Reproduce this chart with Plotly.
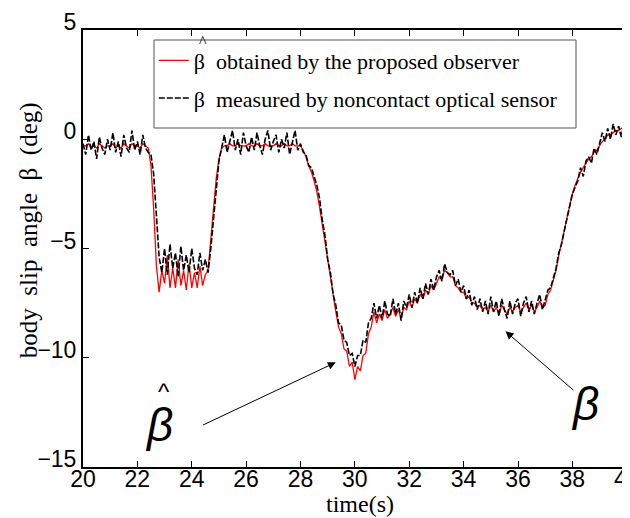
import plotly.graph_objects as go

# time axis (s), 0.1 s step from 20.0 to 40.3
time_s = [round(20.0 + 0.1 * i, 1) for i in range(204)]

# beta measured by noncontact optical sensor (deg)
beta_meas = [
    -0.2, -0.7, 0.2, -0.5, -0.1, -0.9, 0.1, -0.4, -0.7, 0.0,
    -0.5, 0.3, -0.6, -0.1, -0.8, 0.2, -0.4, -0.6, 0.4, -0.5,
    -0.1, -0.7, 0.2, -0.4, -0.6, -0.7, -1.6, -3.6, -5.4, -6.1,
    -5.0, -6.2, -4.8, -5.9, -5.2, -6.3, -4.9, -6.0, -5.3, -6.1,
    -5.0, -5.9, -6.2, -5.2, -6.0, -5.5, -6.1, -5.0, -3.6, -2.1,
    -1.0, -0.4, 0.2, -0.6, -0.1, 0.4, -0.5, 0.0, -0.7, 0.3,
    -0.3, -0.6, 0.1, -0.5, 0.3, -0.3, -0.7, 0.0, 0.4, -0.5,
    -0.1, 0.2, -0.6, 0.0, -0.4, 0.3, -0.7, -0.1, 0.4, -0.5,
    -0.2, -0.6, -0.7, -1.2, -1.3, -1.7, -2.1, -2.7, -3.7, -4.4,
    -5.5, -6.1, -7.1, -7.6, -8.4, -8.5, -9.2, -9.3, -9.9, -9.8,
    -10.4, -9.9, -9.9, -9.2, -9.3, -8.4, -8.2, -7.5, -8.2, -7.6,
    -8.2, -7.4, -8.0, -8.1, -7.3, -8.0, -7.5, -8.3, -7.4, -7.7,
    -7.1, -7.7, -7.0, -7.5, -6.8, -7.3, -6.6, -7.1, -6.4, -6.9,
    -6.3, -6.0, -6.5, -5.7, -6.1, -6.2, -6.0, -6.7, -6.4, -7.0,
    -6.7, -7.3, -6.9, -7.6, -7.2, -7.8, -7.3, -7.9, -7.4, -8.0,
    -7.2, -7.9, -7.4, -8.1, -7.3, -7.8, -8.2, -7.4, -8.0, -7.5,
    -7.3, -8.1, -7.5, -7.2, -7.9, -7.4, -8.0, -7.5, -7.1, -7.8,
    -7.4, -6.9, -6.8, -6.4, -5.9, -5.2, -4.8, -4.2, -3.6, -3.0,
    -2.5, -2.2, -1.9, -1.3, -1.7, -1.0, -0.8, -1.1, -0.4, -0.7,
    -0.2, 0.3, -0.1, 0.5, 0.0, 0.7, 0.2, 0.6, 0.1, 0.8,
    1.4, 0.3, 0.7, 0.4,
]

# beta-hat obtained by the proposed observer (deg)
beta_est = [
    -0.3, -0.3, -0.2, -0.4, -0.3, -0.4, -0.2, -0.3, -0.4, -0.3,
    -0.3, -0.2, -0.4, -0.3, -0.4, -0.2, -0.3, -0.4, -0.2, -0.3,
    -0.3, -0.4, -0.2, -0.3, -0.4, -1.2, -3.2, -5.8, -7.0, -6.0,
    -6.6, -5.3, -6.8, -5.9, -6.8, -5.5, -6.7, -6.0, -6.9, -5.7,
    -6.8, -6.1, -6.8, -5.8, -6.7, -6.2, -6.0, -4.6, -3.2, -1.8,
    -0.9, -0.4, -0.3, -0.3, -0.2, -0.3, -0.3, -0.2, -0.3, -0.3,
    -0.3, -0.2, -0.3, -0.3, -0.2, -0.3, -0.3, -0.2, -0.3, -0.3,
    -0.3, -0.2, -0.3, -0.3, -0.2, -0.3, -0.3, -0.2, -0.3, -0.3,
    -0.3, -0.5, -0.8, -1.2, -1.5, -1.9, -2.4, -3.1, -3.9, -4.8,
    -5.7, -6.4, -7.2, -7.9, -8.6, -8.9, -9.6, -9.7, -10.4, -10.2,
    -11.0, -10.4, -10.6, -9.9, -9.8, -8.9, -8.6, -7.9, -8.4, -8.0,
    -8.3, -7.8, -8.2, -8.0, -7.7, -8.1, -7.8, -8.2, -7.7, -7.8,
    -7.4, -7.7, -7.3, -7.5, -7.1, -7.3, -6.9, -7.1, -6.7, -6.9,
    -6.6, -6.3, -6.4, -6.0, -6.1, -6.3, -6.3, -6.7, -6.8, -7.0,
    -7.0, -7.3, -7.2, -7.5, -7.5, -7.7, -7.6, -7.8, -7.7, -7.9,
    -7.6, -7.9, -7.7, -8.0, -7.6, -7.8, -8.0, -7.7, -7.9, -7.7,
    -7.6, -7.9, -7.7, -7.5, -7.8, -7.6, -7.9, -7.7, -7.4, -7.7,
    -7.6, -7.1, -6.9, -6.5, -6.0, -5.3, -4.8, -4.2, -3.6, -3.0,
    -2.5, -2.1, -1.8, -1.5, -1.3, -1.1, -0.9, -0.8, -0.6, -0.5,
    -0.3, -0.1, 0.0, 0.2, 0.2, 0.3, 0.4, 0.4, 0.5, 0.5,
    0.6, 0.5, 0.6, 0.5,
]

x_ticks = [20, 22, 24, 26, 28, 30, 32, 34, 36, 38, 40]
y_ticks = [5, 0, -5, -10, -15]

SERIF = "Liberation Serif"
TICKFONT = "Liberation Sans Narrow, Liberation Sans, Arial"
NB = "\u00a0"

fig = go.Figure()
fig.add_trace(go.Scatter(
    x=time_s, y=beta_est, mode="lines",
    line=dict(color="#ff0000", width=1.3),
    name="β" + NB + NB + "obtained by the proposed observer", legendgroup="a",
))
fig.add_trace(go.Scatter(
    x=time_s, y=beta_meas, mode="lines",
    line=dict(color="#000000", width=1.6, dash="6px,2px"),
    name="β" + NB + NB + "measured by noncontact optical sensor", legendgroup="b",
))

axis_common = dict(
    showline=True, linecolor="black", linewidth=2, mirror="ticks",
    ticks="inside", ticklen=6, tickwidth=1, tickcolor="black",
    showgrid=False, zeroline=False, ticklabeloverflow="allow",
    automargin=False,
    tickfont=dict(family=TICKFONT, size=23, color="black"),
)

fig.update_layout(
    width=630, height=518,
    margin=dict(l=75, r=2, t=22, b=59),
    paper_bgcolor="white", plot_bgcolor="white",
    showlegend=True,
    legend=dict(
        x=0.128, y=0.978, xanchor="left", yanchor="top",
        bgcolor="rgba(0,0,0,0)", borderwidth=0,
        font=dict(family=SERIF, size=22, color="black"),
        tracegroupgap=6, itemwidth=30,
    ),
    xaxis=dict(range=[20, 40.34], tickvals=x_ticks, ticklabelstandoff=-10, **axis_common),
    yaxis=dict(range=[-15, 5], tickvals=y_ticks, ticklabelshift=-8, **axis_common),
)

# legend frame
fig.add_shape(type="rect", xref="paper", yref="paper",
              x0=(146 - 75) / 553, x1=(568 - 75) / 553,
              y0=1 - (120 - 22) / 437, y1=1 - (32 - 22) / 437,
              line=dict(color="#555555", width=1), fillcolor="white", layer="above")

# axis titles
fig.add_annotation(x=0.5, y=-0.0847, xref="paper", yref="paper",
                   xanchor="center", yanchor="middle",
                   text="time(s)", showarrow=False,
                   font=dict(family=SERIF, size=24, color="black"))
fig.add_annotation(x=-0.0976, y=0.542, xref="paper", yref="paper", textangle=-90,
                   xanchor="center", yanchor="middle",
                   text="body" + NB + NB + "slip" + NB + NB + "angle" + NB + NB + "β" + NB + NB + "(deg)",
                   showarrow=False,
                   font=dict(family=SERIF, size=25, color="black"))

# hat on the legend beta
fig.add_annotation(x=0.217, y=0.974, xref="paper", yref="paper",
                   xanchor="center", yanchor="middle",
                   text="^", showarrow=False,
                   font=dict(family=SERIF, size=16, color="black"))

# arrows
fig.add_annotation(x=29.30, y=-10.21, ax=24.36, ay=-13.11, xref="x", yref="y",
                   axref="x", ayref="y", text="", showarrow=True,
                   arrowhead=2, arrowsize=1.6, arrowwidth=1, arrowcolor="black")
fig.add_annotation(x=35.54, y=-8.79, ax=38.09, ay=-11.54, xref="x", yref="y",
                   axref="x", ayref="y", text="", showarrow=True,
                   arrowhead=2, arrowsize=1.6, arrowwidth=1, arrowcolor="black")
# big labels
fig.add_annotation(x=22.78, y=-13.08, xref="x", yref="y", text="<i>β</i>", showarrow=False,
                   font=dict(family="Liberation Sans", size=46, color="black"))
fig.add_annotation(x=22.97, y=-11.56, xref="x", yref="y", text="^", showarrow=False,
                   font=dict(family="Liberation Sans", size=24, color="black"))
fig.add_annotation(x=38.45, y=-12.12, xref="x", yref="y", text="<i>β</i>", showarrow=False,
                   font=dict(family="Liberation Sans", size=46, color="black"))

# caption cut off at the top of the picture
fig.add_annotation(x=0.5416, y=1.0486, xref="paper", yref="paper", xanchor="left", yanchor="bottom",
                   text="body slip angle", showarrow=False,
                   font=dict(family=SERIF, size=26, color="black"))

fig.write_html("out.html")
